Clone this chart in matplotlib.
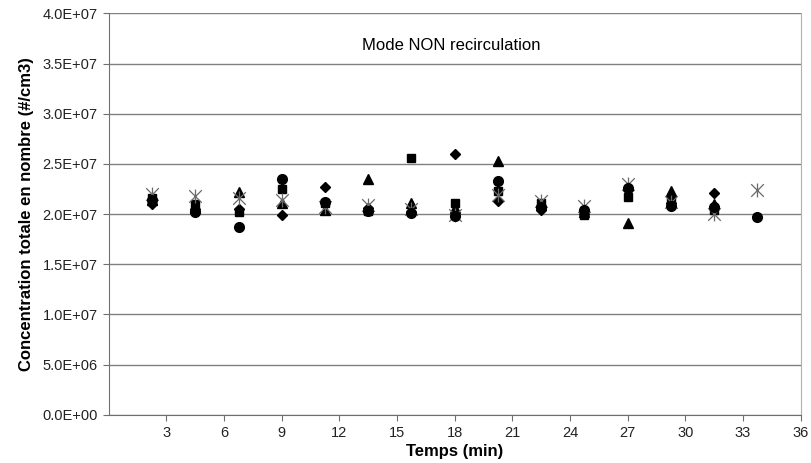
import matplotlib.pyplot as plt
from matplotlib.path import Path
import numpy as np

plt.rcParams['font.family'] = ['Liberation Sans', 'DejaVu Sans']

# ==========================
# DONNEES
# ==========================
temps = [2.25, 4.5, 6.75, 9, 11.25, 13.5, 15.75, 18, 20.25, 22.5, 24.75, 27, 29.25, 31.5, 33.75]

serie_losange = [2.10e7, 2.05e7, 2.05e7, 1.99e7, 2.27e7, 2.06e7, 2.02e7, 2.60e7, 2.13e7, 2.04e7, 2.00e7, 2.24e7, 2.11e7, 2.21e7]
serie_carre = [2.16e7, 2.10e7, 2.02e7, 2.25e7, 2.11e7, 2.03e7, 2.56e7, 2.11e7, 2.23e7, 2.11e7, 1.99e7, 2.17e7, 2.14e7, 2.04e7]
serie_triangle = [2.14e7, 2.07e7, 2.22e7, 2.11e7, 2.04e7, 2.35e7, 2.11e7, 2.06e7, 2.53e7, 2.09e7, 2.02e7, 1.91e7, 2.23e7, 2.10e7]
serie_etoile = [2.20e7, 2.18e7, 2.16e7, 2.14e7, 2.07e7, 2.09e7, 2.05e7, 1.99e7, 2.19e7, 2.13e7, 2.08e7, 2.30e7, 2.12e7, 2.00e7, 2.24e7]
serie_rond = [2.14e7, 2.02e7, 1.87e7, 2.35e7, 2.12e7, 2.03e7, 2.01e7, 1.98e7, 2.33e7, 2.07e7, 2.04e7, 2.26e7, 2.08e7, 2.07e7, 1.97e7]

yticks = np.arange(0, 4.0e7 + 1, 5e6)
xticks = np.arange(3, 37, 3)

# marqueur "etoile" style Excel : X + trait vertical
etoile = Path([(-1, -1), (1, 1), (-1, 1), (1, -1), (0, -1.1), (0, 1.1)],
              [Path.MOVETO, Path.LINETO, Path.MOVETO, Path.LINETO, Path.MOVETO, Path.LINETO])

# ===========================
# FIGURE
# ===========================
fig = plt.figure(figsize=(8.12, 4.63), dpi=100)
ax = fig.add_axes([0.134, 0.104, 0.852, 0.867])

n = len(serie_losange)
ax.plot(temps[:n], serie_losange, ls='none', marker='D', ms=5.5, color='black', zorder=3)
n = len(serie_carre)
ax.plot(temps[:n], serie_carre, ls='none', marker='s', ms=5.5, color='black', zorder=3)
n = len(serie_triangle)
ax.plot(temps[:n], serie_triangle, ls='none', marker='^', ms=7, color='black', zorder=3)
ax.plot(temps, serie_etoile, ls='none', marker=etoile, ms=10, mew=0.9,
        color='#6a6a6a', zorder=3)
ax.plot(temps, serie_rond, ls='none', marker='o', ms=7, color='black', zorder=3)

ax.set_xlim(0, 36)
ax.set_ylim(0, 4.0e7)
ax.set_xticks(xticks)
ax.set_yticks(yticks)
ax.set_yticklabels(['%.1fE+%02d' % (v / 10 ** int(np.floor(np.log10(v))), int(np.floor(np.log10(v))))
                    if v > 0 else '0.0E+00' for v in yticks])
ax.tick_params(axis='both', labelsize=10.5, direction='out', length=4, width=0.8, pad=4,
               colors='#707070', labelcolor='#222222')

ax.grid(axis='y', color='#808080', lw=1)
ax.set_axisbelow(True)
ax.spines['top'].set_visible(False)
ax.spines['right'].set_color('#b0b0b0')
ax.spines['left'].set_color('#707070')
ax.spines['bottom'].set_color('#707070')

ax.set_xlabel('Temps (min)', fontsize=12, fontweight='bold', labelpad=3)
ax.set_ylabel('Concentration totale en nombre (#/cm3)', fontsize=12, fontweight='bold', labelpad=6)
ax.text(0.495, 0.92, 'Mode NON recirculation', transform=ax.transAxes, fontsize=12,
        ha='center', va='center')

fig.savefig('out.png', dpi=100)
